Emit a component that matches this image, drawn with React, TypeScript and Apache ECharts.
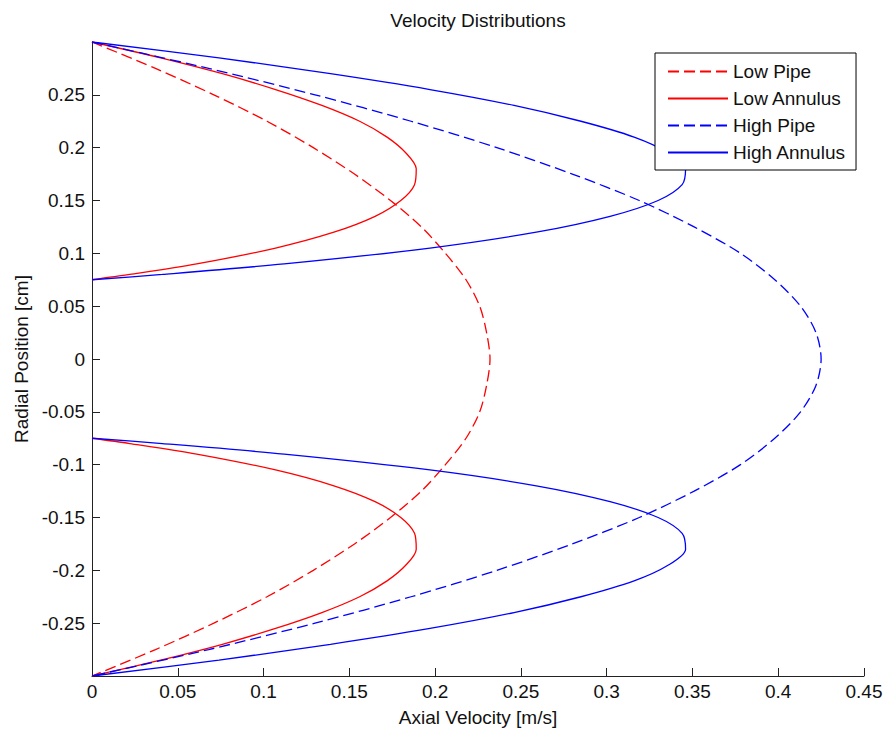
import React, { useEffect, useRef } from "react";
import * as echarts from "echarts";

// Radial positions (cm) for the pipe profiles, wall to wall
const pipeRadius = [
  0.3, 0.275, 0.25, 0.225, 0.2, 0.175, 0.15, 0.125, 0.1, 0.075, 0.05, 0.025, 0,
  -0.025, -0.05, -0.075, -0.1, -0.125, -0.15, -0.175, -0.2, -0.225, -0.25, -0.275, -0.3,
];
// Axial velocity (m/s) in the pipe
const lowPipe = [
  0, 0.037, 0.071, 0.102, 0.129, 0.153, 0.174, 0.192, 0.206, 0.218, 0.226, 0.23, 0.232,
  0.23, 0.226, 0.218, 0.206, 0.192, 0.174, 0.153, 0.129, 0.102, 0.071, 0.037, 0,
];
const highPipe = [
  0, 0.068, 0.13, 0.186, 0.236, 0.28, 0.319, 0.351, 0.378, 0.398, 0.413, 0.422, 0.425,
  0.422, 0.413, 0.398, 0.378, 0.351, 0.319, 0.28, 0.236, 0.186, 0.13, 0.068, 0,
];

// Radial positions (cm) for the annulus: upper gap (outer wall to inner wall),
// then lower gap (inner wall to outer wall)
const annulusRadius = [
  0.3, 0.285, 0.27, 0.255, 0.24, 0.225, 0.21, 0.195, 0.18, 0.165, 0.15, 0.135, 0.12, 0.105, 0.09, 0.08, 0.075,
  -0.075, -0.08, -0.09, -0.105, -0.12, -0.135, -0.15, -0.165, -0.18, -0.195, -0.21, -0.225, -0.24, -0.255, -0.27, -0.285, -0.3,
];
// Axial velocity (m/s) in the annulus
const lowAnnulus = [
  0, 0.04, 0.076, 0.107, 0.134, 0.156, 0.172, 0.183, 0.189, 0.188, 0.18, 0.165, 0.141, 0.107, 0.061, 0.022, 0,
  0, 0.022, 0.061, 0.107, 0.141, 0.165, 0.18, 0.188, 0.189, 0.183, 0.172, 0.156, 0.134, 0.107, 0.076, 0.04, 0,
];
const highAnnulus = [
  0, 0.074, 0.139, 0.197, 0.246, 0.285, 0.316, 0.336, 0.346, 0.344, 0.33, 0.302, 0.259, 0.197, 0.112, 0.041, 0,
  0, 0.041, 0.112, 0.197, 0.259, 0.302, 0.33, 0.344, 0.346, 0.336, 0.316, 0.285, 0.246, 0.197, 0.139, 0.074, 0,
];
// Index where the lower annulus branch begins (line is broken there)
const annulusBreak = 17;

const yTicks = [-0.25, -0.2, -0.15, -0.1, -0.05, 0, 0.05, 0.1, 0.15, 0.2, 0.25];

const FONT = "'Liberation Sans', Arial, Helvetica, sans-serif";
const TEXT = "#111";
const AXIS = "#222";
const RED = "#ff0000";
const BLUE = "#0000ff";

function pairs(vel: number[], pos: number[], breakAt?: number) {
  const out: any[] = [];
  vel.forEach((v, i) => {
    if (breakAt !== undefined && i === breakAt) out.push(["-", "-"]);
    out.push([v, pos[i]]);
  });
  return out;
}

function line(name: string, color: string, dashed: boolean, data: any[]) {
  return {
    name,
    type: "line",
    data,
    symbol: "none",
    smooth: 0.3,
    connectNulls: false,
    clip: true,
    lineStyle: {
      color,
      width: 1.3,
      type: dashed ? [11, 5] : "solid",
    },
    itemStyle: { color },
    emphasis: { disabled: true },
  };
}

export default function App() {
  const ref = useRef<HTMLDivElement>(null);

  useEffect(() => {
    if (!ref.current) return;
    const chart = echarts.init(ref.current, null, { renderer: "svg" });
    chart.setOption({
      animation: false,
      backgroundColor: "#ffffff",
      textStyle: { fontFamily: FONT },
      title: {
        text: "Velocity Distributions",
        left: 478,
        top: 11,
        textAlign: "center",
        padding: 0,
        textStyle: { fontFamily: FONT, fontSize: 19, fontWeight: "normal", color: TEXT },
      },
      legend: {
        orient: "vertical",
        left: 655,
        top: 53,
        padding: [9, 10, 8, 12],
        itemGap: 8,
        itemWidth: 60,
        itemHeight: 14,
        backgroundColor: "#ffffff",
        borderColor: "#000000",
        borderWidth: 1,
        borderRadius: 0,
        selectedMode: false,
        itemStyle: { opacity: 0 },
        textStyle: { fontFamily: FONT, fontSize: 19, color: TEXT },
        data: ["Low Pipe", "Low Annulus", "High Pipe", "High Annulus"],
      },
      grid: { left: 92, right: 22, top: 42, bottom: 55 },
      xAxis: {
        type: "value",
        min: 0,
        max: 0.45,
        interval: 0.05,
        name: "Axial Velocity [m/s]",
        nameLocation: "middle",
        nameGap: 32,
        nameTextStyle: { fontFamily: FONT, fontSize: 19, color: TEXT },
        axisLine: { show: true, onZero: false, lineStyle: { color: AXIS, width: 1 } },
        axisTick: { show: true, inside: true, length: 8, lineStyle: { color: AXIS } },
        axisLabel: { margin: 6, fontFamily: FONT, fontSize: 19, color: TEXT },
        splitLine: { show: false },
      },
      yAxis: {
        type: "value",
        min: -0.3,
        max: 0.3,
        interval: 0.05,
        name: "Radial Position [cm]",
        nameLocation: "middle",
        nameGap: 60,
        nameTextStyle: { fontFamily: FONT, fontSize: 19, color: TEXT },
        axisLine: { show: true, onZero: false, lineStyle: { color: AXIS, width: 1 } },
        axisTick: { show: true, inside: true, length: 8, lineStyle: { color: AXIS }, customValues: yTicks },
        axisLabel: { margin: 7, fontFamily: FONT, fontSize: 19, color: TEXT, customValues: yTicks },
        splitLine: { show: false },
      },
      series: [
        line("Low Pipe", RED, true, pairs(lowPipe, pipeRadius)),
        line("Low Annulus", RED, false, pairs(lowAnnulus, annulusRadius, annulusBreak)),
        line("High Pipe", BLUE, true, pairs(highPipe, pipeRadius)),
        line("High Annulus", BLUE, false, pairs(highAnnulus, annulusRadius, annulusBreak)),
      ],
    });
    return () => chart.dispose();
  }, []);

  return (
    <div
      ref={ref}
      style={{ position: "fixed", left: 0, top: 0, width: 886, height: 732, background: "#fff" }}
    />
  );
}
